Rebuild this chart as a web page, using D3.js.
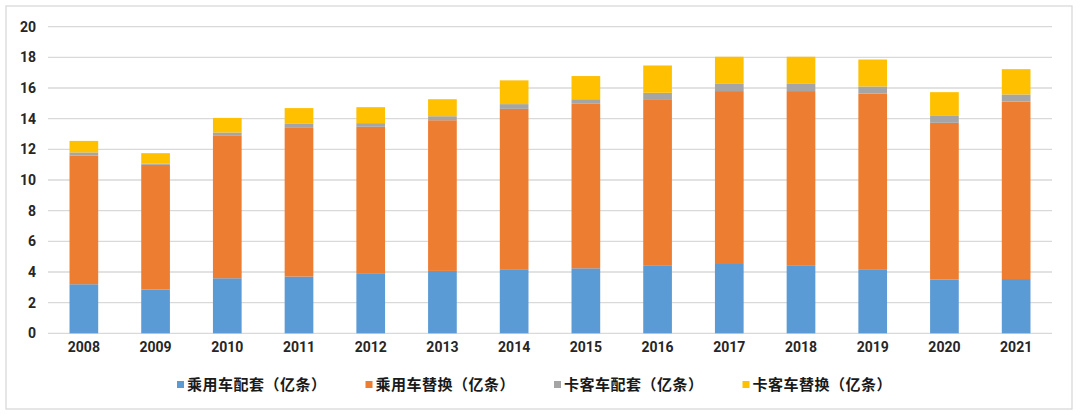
<!DOCTYPE html>
<html>
<head>
<meta charset="utf-8">
<script src="https://cdn.jsdelivr.net/npm/d3@7"></script>
<style>
  html, body { margin: 0; padding: 0; background: #fff; }
  svg { display: block; }
</style>
</head>
<body>
<svg id="chart" width="1080" height="416"></svg>
<script>
const years = ["2008","2009","2010","2011","2012","2013","2014","2015","2016","2017","2018","2019","2020","2021"];
const seriesNames = ["乘用车配套（亿条）","乘用车替换（亿条）","卡客车配套（亿条）","卡客车替换（亿条）"];
const passengerOE   = [3.2, 2.85, 3.59, 3.7, 3.92, 4.07, 4.18, 4.24, 4.44, 4.52, 4.44, 4.18, 3.5, 3.54];
const passengerRepl = [8.4, 8.14, 9.29, 9.7, 9.55, 9.83, 10.46, 10.73, 10.83, 11.28, 11.36, 11.46, 10.23, 11.58];
const truckOE       = [0.2, 0.09, 0.22, 0.26, 0.24, 0.26, 0.31, 0.3, 0.42, 0.47, 0.47, 0.46, 0.45, 0.46];
const truckRepl     = [0.75, 0.67, 0.95, 1.03, 1.04, 1.11, 1.55, 1.51, 1.78, 1.77, 1.77, 1.76, 1.55, 1.65];
const yTicks = [0, 2, 4, 6, 8, 10, 12, 14, 16, 18, 20];
const colors = ["#5B9BD5", "#ED7D31", "#A5A5A5", "#FFC000"];

const keys = ["a","b","c","d"];
const table = years.map((yr, i) => ({
  year: yr, a: passengerOE[i], b: passengerRepl[i], c: truckOE[i], d: truckRepl[i]
}));

const svg = d3.select("#chart");
// outer border
svg.append("rect").attr("x", 6).attr("y", 6).attr("width", 1066).attr("height", 403)
  .attr("fill", "#fff").attr("stroke", "#d9d9d9").attr("stroke-width", 1.3);

const plotL = 48, plotR = 1052, plotT = 26.7, plotB = 333.3;
const x = d3.scaleBand().domain(years).range([plotL, plotR]).paddingInner(0.6).paddingOuter(0.3);
const y = d3.scaleLinear().domain([0, 20]).range([plotB, plotT]);

// gridlines
svg.append("g").selectAll("line").data(yTicks).join("line")
  .attr("x1", plotL).attr("x2", plotR)
  .attr("y1", d => y(d)).attr("y2", d => y(d))
  .attr("stroke", "#d9d9d9").attr("stroke-width", 1.3);

// y axis labels
const yAxis = d3.axisLeft(y).tickValues(yTicks).tickSize(0).tickPadding(0);
const gy = svg.append("g").attr("transform", `translate(${36},0)`).call(yAxis);
gy.select(".domain").remove();
gy.selectAll("text").attr("font-family", "Roboto, 'Open Sans', sans-serif")
  .attr("font-size", 14).attr("font-weight", "bold").attr("fill", "#262626");

// stacked bars
const stacked = d3.stack().keys(keys)(table);
svg.append("g").selectAll("g").data(stacked).join("g")
  .attr("fill", (d, i) => colors[i])
  .selectAll("rect").data(d => d).join("rect")
  .attr("x", d => x(d.data.year))
  .attr("width", x.bandwidth())
  .attr("y", d => y(d[1]))
  .attr("height", d => y(d[0]) - y(d[1]));

// x axis labels
const xAxis = d3.axisBottom(x).tickSize(0).tickPadding(0);
const gx = svg.append("g").attr("transform", `translate(0,${plotB + 9})`).call(xAxis);
gx.select(".domain").remove();
gx.selectAll("text").attr("font-family", "Roboto, 'Open Sans', sans-serif")
  .attr("font-size", 14).attr("font-weight", "bold").attr("fill", "#262626");

// legend
const legend = svg.append("g").attr("transform", "translate(177,0)");
const item = legend.selectAll("g").data(seriesNames).join("g")
  .attr("transform", (d, i) => `translate(${i * 188.5},0)`);
item.append("rect").attr("x", 0).attr("y", 381).attr("width", 7).attr("height", 7)
  .attr("fill", (d, i) => colors[i]);
item.append("text").attr("x", 10).attr("y", 390)
  .attr("font-family", "'Noto Sans CJK SC', sans-serif")
  .attr("font-size", 15).attr("font-weight", "bold").attr("letter-spacing", 0.5)
  .attr("fill", "#1a1a1a")
  .text(d => d);
</script>
</body>
</html>
